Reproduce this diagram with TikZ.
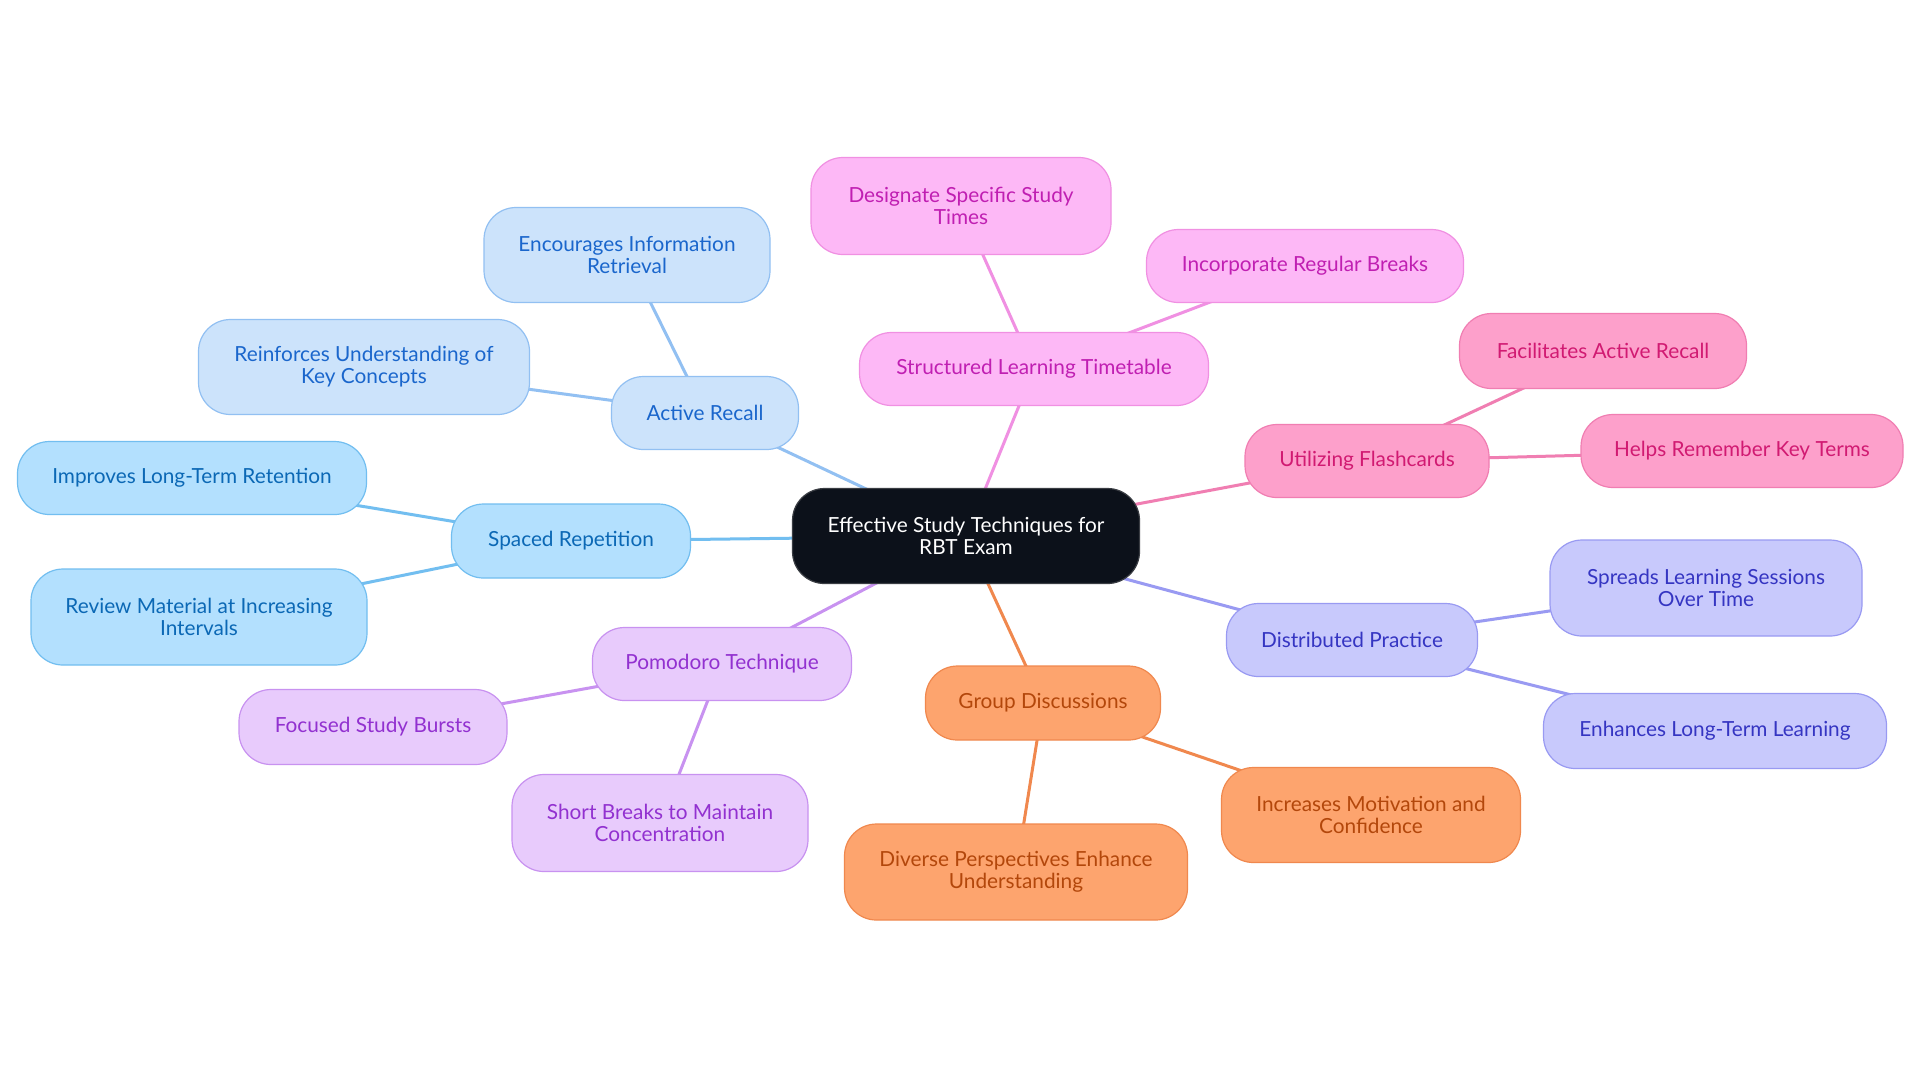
\documentclass[tikz,border=0pt]{standalone}
\usepackage{fontspec}
\setmainfont{Lato}
\usetikzlibrary{backgrounds}
\definecolor{cfill}{HTML}{0C111A}
\definecolor{arF}{HTML}{CCE3FB}\definecolor{arD}{HTML}{92C0F2}\definecolor{arT}{HTML}{1A66CC}\definecolor{arE}{HTML}{92C0F2}
\definecolor{spF}{HTML}{B3E0FE}\definecolor{spD}{HTML}{72BEF0}\definecolor{spT}{HTML}{0B68B5}\definecolor{spE}{HTML}{72BEF0}
\definecolor{pmF}{HTML}{E8CBFC}\definecolor{pmD}{HTML}{C892F0}\definecolor{pmT}{HTML}{9231D0}\definecolor{pmE}{HTML}{C892F0}
\definecolor{gdF}{HTML}{FDA46E}\definecolor{gdD}{HTML}{F0884E}\definecolor{gdT}{HTML}{B3470B}\definecolor{gdE}{HTML}{F0884E}
\definecolor{dpF}{HTML}{C8C9FC}\definecolor{dpD}{HTML}{999AF2}\definecolor{dpT}{HTML}{3535C2}\definecolor{dpE}{HTML}{999AF2}
\definecolor{fcF}{HTML}{FDA0CB}\definecolor{fcD}{HTML}{F07EB2}\definecolor{fcT}{HTML}{D11A72}\definecolor{fcE}{HTML}{F07EB2}
\definecolor{stF}{HTML}{FDB8F6}\definecolor{stD}{HTML}{F090E2}\definecolor{stT}{HTML}{C01FB2}\definecolor{stE}{HTML}{F090E2}
\tikzset{
  box/.style={rounded corners=16pt, inner sep=0pt, align=center, font=\fontsize{10.4}{11}\selectfont, line width=0.6pt},
  grp/.style n args={3}{box, fill=#1, draw=#2, text=#3},
  ar/.style={grp={arF}{arD}{arT}}, sp/.style={grp={spF}{spD}{spT}},
  pm/.style={grp={pmF}{pmD}{pmT}}, gd/.style={grp={gdF}{gdD}{gdT}},
  dp/.style={grp={dpF}{dpD}{dpT}}, fc/.style={grp={fcF}{fcD}{fcT}},
  st/.style={grp={stF}{stD}{stT}},
  sz/.style 2 args={minimum width=#1*0.5pt, minimum height=#2*0.5pt},
  link/.style={line width=1.5pt},
}
\begin{document}
\begin{tikzpicture}[x=0.5pt,y=-0.5pt]
\useasboundingbox (0,0) rectangle (1920,1083);
% center
\node[box, fill=cfill, draw=cfill!60!gray, text=white, sz={347}{95}] (c) at (966,536) {Effective Study Techniques for\\RBT Exam};
% Active Recall
\node[ar, sz={187}{73}] (ar) at (705,413) {Active Recall};
\node[ar, sz={286}{95}] (ar1) at (627,255) {Encourages Information\\Retrieval};
\node[ar, sz={331}{95}] (ar2) at (364,367) {Reinforces Understanding of\\Key Concepts};
% Spaced Repetition
\node[sp, sz={239}{74}] (sp) at (571,541) {Spaced Repetition};
\node[sp, sz={349}{73}] (sp1) at (192,478) {Improves Long-Term Retention};
\node[sp, sz={336}{96}] (sp2) at (199,617) {Review Material at Increasing\\Intervals};
% Pomodoro
\node[pm, sz={259}{73}] (pm) at (722,664) {Pomodoro Technique};
\node[pm, sz={268}{75}] (pm1) at (373,727) {Focused Study Bursts};
\node[pm, sz={296}{97}] (pm2) at (660,823) {Short Breaks to Maintain\\Concentration};
% Group Discussions
\node[gd, sz={235}{74}] (gd) at (1043,703) {Group Discussions};
\node[gd, sz={343}{96}] (gd1) at (1016,872) {Diverse Perspectives Enhance\\Understanding};
\node[gd, sz={299}{95}] (gd2) at (1371,815) {Increases Motivation and\\Confidence};
% Distributed Practice
\node[dp, sz={251}{73}] (dp) at (1352,640) {Distributed Practice};
\node[dp, sz={312}{96}] (dp1) at (1706,588) {Spreads Learning Sessions\\Over Time};
\node[dp, sz={343}{75}] (dp2) at (1715,731) {Enhances Long-Term Learning};
% Flashcards
\node[fc, sz={244}{73}] (fc) at (1367,461) {Utilizing Flashcards};
\node[fc, sz={287}{75}] (fc1) at (1603,351) {Facilitates Active Recall};
\node[fc, sz={322}{73}] (fc2) at (1742,451) {Helps Remember Key Terms};
% Structured
\node[st, sz={349}{73}] (st) at (1034,369) {Structured Learning Timetable};
\node[st, sz={300}{97}] (st1) at (961,206) {Designate Specific Study\\Times};
\node[st, sz={317}{73}] (st2) at (1305,266) {Incorporate Regular Breaks};
\begin{scope}[on background layer]
\fill[white] (0,0) rectangle (1920,1083);
\draw[link, arE] (c.center) -- (ar.center);
\draw[link, arE] (ar.center) -- (ar1.center);
\draw[link, arE] (ar.center) -- (ar2.center);
\draw[link, spE] (c.center) -- (sp.center);
\draw[link, spE] (sp.center) -- (sp1.center);
\draw[link, spE] (sp.center) -- (sp2.center);
\draw[link, pmE] (c.center) -- (pm.center);
\draw[link, pmE] (pm.center) -- (pm1.center);
\draw[link, pmE] (pm.center) -- (pm2.center);
\draw[link, gdE] (c.center) -- (gd.center);
\draw[link, gdE] (gd.center) -- (gd1.center);
\draw[link, gdE] (gd.center) -- (gd2.center);
\draw[link, dpE] (c.center) -- (dp.center);
\draw[link, dpE] (dp.center) -- (dp1.center);
\draw[link, dpE] (dp.center) -- (dp2.center);
\draw[link, fcE] (c.center) -- (fc.center);
\draw[link, fcE] (fc.center) -- (fc1.center);
\draw[link, fcE] (fc.center) -- (fc2.center);
\draw[link, stE] (c.center) -- (st.center);
\draw[link, stE] (st.center) -- (st1.center);
\draw[link, stE] (st.center) -- (st2.center);
\end{scope}
\end{tikzpicture}
\end{document}
